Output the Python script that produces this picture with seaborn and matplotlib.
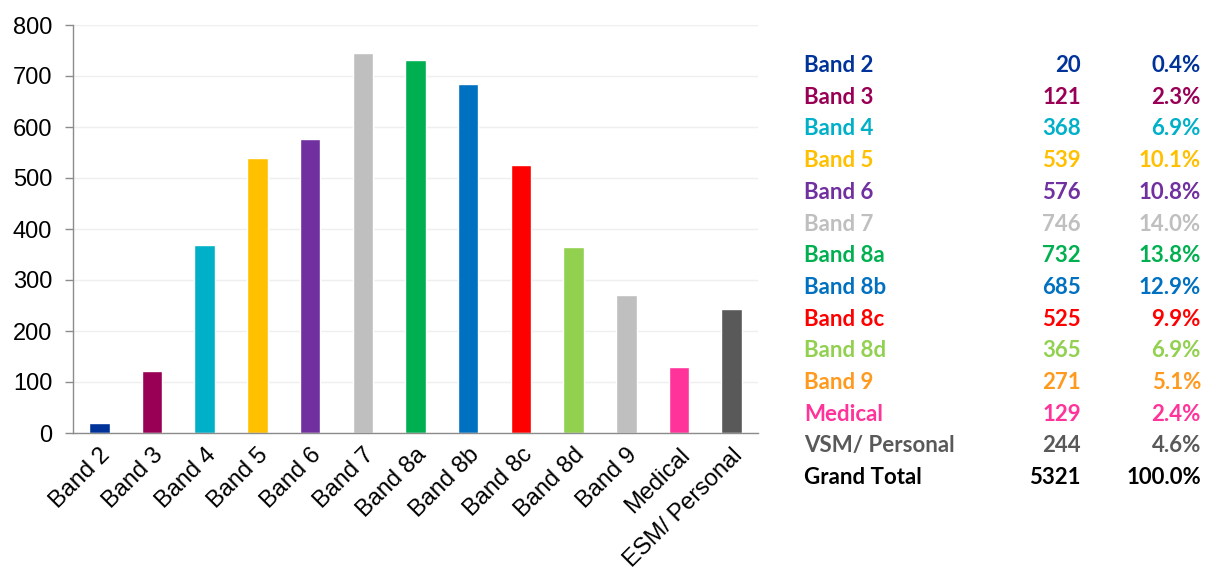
import matplotlib
matplotlib.use("Agg")
import matplotlib.pyplot as plt
import seaborn as sns
import pandas as pd

# Headcount by band
categories = ["Band 2", "Band 3", "Band 4", "Band 5", "Band 6", "Band 7", "Band 8a",
              "Band 8b", "Band 8c", "Band 8d", "Band 9", "Medical", "ESM/ Personal"]
counts = [20, 121, 368, 539, 576, 746, 732, 685, 525, 365, 271, 129, 244]
bar_colors = ["#003399", "#990055", "#00B0C8", "#FFC000", "#7030A0", "#BFBFBF", "#00B050",
              "#0070C0", "#FF0000", "#92D050", "#BFBFBF", "#FF3399", "#595959"]

# Summary table on the right
table_labels = ["Band 2", "Band 3", "Band 4", "Band 5", "Band 6", "Band 7", "Band 8a",
                "Band 8b", "Band 8c", "Band 8d", "Band 9", "Medical", "VSM/ Personal"]
table_colors = ["#003399", "#990055", "#00B0C8", "#FFC000", "#7030A0", "#BFBFBF", "#00B050",
                "#0070C0", "#FF0000", "#92D050", "#FF9A1F", "#FF3399", "#595959"]
yticks = [0, 100, 200, 300, 400, 500, 600, 700, 800]

sns.set_style("white")
plt.rcParams["font.family"] = ["Liberation Sans", "DejaVu Sans"]

fig = plt.figure(figsize=(12.12, 5.78), dpi=100)
ax = fig.add_axes([73 / 1212, 1 - 433 / 578, 685 / 1212, 408 / 578])

df = pd.DataFrame({"category": categories, "count": counts})
sns.barplot(data=df, x="category", y="count", hue="category", palette=bar_colors,
            order=categories, hue_order=categories, width=0.39, legend=False,
            saturation=1, ax=ax)

ax.set_xlim(-0.5, len(categories) - 0.5)
ax.set_ylim(0, 800)
ax.set_yticks(yticks)
ax.set_yticklabels([str(v) for v in yticks], fontsize=17, color="black")
ax.yaxis.grid(True, color="#EFEFEF", linewidth=1)
ax.set_axisbelow(True)
ax.set_xlabel("")
ax.set_ylabel("")

# Category labels centred on bars, tick marks at the category boundaries
ax.set_xticks(range(len(categories)))
ax.set_xticklabels(categories, rotation=45, ha="right", rotation_mode="anchor",
                   fontsize=17, color="black")
ax.tick_params(axis="x", which="major", length=0, pad=8)
ax.set_xticks([i - 0.5 for i in range(len(categories) + 1)], minor=True)
ax.tick_params(axis="x", which="minor", length=7, width=1, color="#8C8C8C", direction="out")
ax.tick_params(axis="y", which="major", length=6, width=1, color="#8C8C8C", direction="out",
               left=True, pad=9)

for side in ("top", "right"):
    ax.spines[side].set_visible(False)
for side in ("left", "bottom"):
    ax.spines[side].set_color("#8C8C8C")
    ax.spines[side].set_linewidth(1)

# Table of counts and shares
total = sum(counts)
row0, step = 72, 31.7
x_label, x_count, x_pct = 804, 1081, 1201
tfont = dict(fontsize=16, fontweight="bold", family=["Lato", "DejaVu Sans"], va="baseline")
for i, (lab, val, col) in enumerate(zip(table_labels, counts, table_colors)):
    y = 1 - (row0 + i * step) / 578
    fig.text(x_label / 1212, y, lab, color=col, ha="left", **tfont)
    fig.text(x_count / 1212, y, f"{val}", color=col, ha="right", **tfont)
    fig.text(x_pct / 1212, y, f"{val / total * 100:.1f}%", color=col, ha="right", **tfont)

y = 1 - (row0 + len(counts) * step) / 578
fig.text(x_label / 1212, y, "Grand Total", color="black", ha="left", **tfont)
fig.text(x_count / 1212, y, f"{total}", color="black", ha="right", **tfont)
fig.text(x_pct / 1212, y, "100.0%", color="black", ha="right", **tfont)

fig.savefig("out.png", dpi=100)
